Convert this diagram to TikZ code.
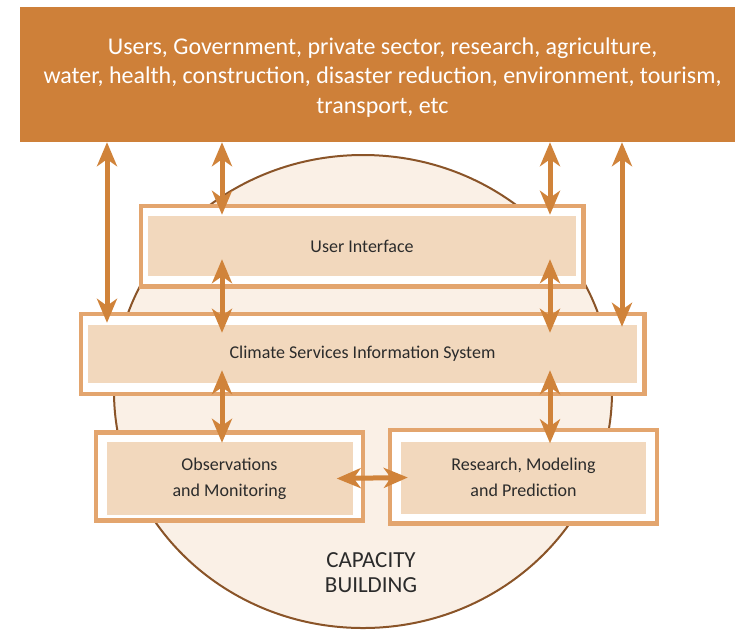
\documentclass[tikz,border=0pt]{standalone}
\usepackage{fontspec}
\setmainfont{Carlito}
\usepackage{xcolor}
\usepackage{tikz}
\usetikzlibrary{positioning,calc,arrows.meta}

\definecolor{usersorange}{HTML}{CE8039}
\definecolor{linkorange}{HTML}{D0833A}
\definecolor{boxline}{HTML}{E3A56E}
\definecolor{panelfill}{HTML}{F2D8BD}
\definecolor{ringfill}{HTML}{FAF0E6}
\definecolor{ringline}{HTML}{8A5428}
\definecolor{darktext}{HTML}{2B2B2B}

\begin{document}
\begin{tikzpicture}[x=1pt, y=-1pt,
    frame/.style={draw=boxline, line width=4.5pt, fill=white, inner sep=0pt},
    panel/.style={fill=panelfill, text=darktext, font=\fontsize{18}{26}\selectfont, align=center, inner sep=0pt},
    link/.style={draw=linkorange, line width=5pt, {Stealth[length=24pt,width=20pt,inset=7pt]}-{Stealth[length=24pt,width=20pt,inset=7pt]}}
]
    \useasboundingbox (0,0) rectangle (735,630);

    % Capacity building ring
    \draw [fill=ringfill, draw=ringline, line width=2pt] (363,391.5) ellipse [x radius=249, y radius=236.5];
    \node [font=\fontsize{23}{25}\selectfont, text=darktext, align=center] (capacity) at (371,573) {CAPACITY\\BUILDING};

    % Users
    \node [fill=usersorange, minimum width=715pt, minimum height=135pt] (users) at (377.5,74.5) {};
    \node [text=white, align=center, font=\fontsize{24}{29.5}\selectfont] (users-text) at ([xshift=5pt,yshift=-3pt]users.center)
          {Users, Government, private sector, research, agriculture,\\
           water, health, construction, disaster reduction, environment, tourism,\\
           transport, etc};

    % Boxes
    \node [frame, minimum width=442.5pt, minimum height=80.5pt] (ui) at (362,246) {};
    \node [panel, minimum width=428pt, minimum height=60pt] (ui-in) at (ui.center) {User Interface};

    \node [frame, minimum width=563.5pt, minimum height=80pt] (csis) at (362.5,354) {};
    \node [panel, minimum width=549pt, minimum height=58pt] (csis-in) at (csis.center) {Climate Services Information System};

    \node [frame, minimum width=267pt, minimum height=88pt] (obs) at (229.5,476.5) {};
    \node [panel, minimum width=246pt, minimum height=73pt] (obs-in) at ([yshift=-2pt]obs.center) {Observations\\and Monitoring};

    \node [frame, minimum width=267pt, minimum height=93.5pt] (res) at (523.5,476.5) {};
    \node [panel, minimum width=245pt, minimum height=72pt] (res-in) at ([yshift=-1pt]res.center) {Research, Modeling\\and Prediction};

    % Arrow columns
    \coordinate (colA) at (107,0);
    \coordinate (colB) at (222,0);
    \coordinate (colC) at (550,0);
    \coordinate (colD) at (622,0);

    \draw [link] (users.south -| colA) -- ([yshift=2pt]csis-in.north -| colA);
    \draw [link] (users.south -| colB) -- ([yshift=1pt]ui-in.north -| colB);
    \draw [link] (users.south -| colC) -- ([yshift=1pt]ui-in.north -| colC);
    \draw [link] (users.south -| colD) -- ([yshift=-2pt]csis-in.north -| colD);

    \draw [link] ([yshift=17pt]ui-in.south -| colB) -- ([yshift=-8pt]csis-in.north -| colB);
    \draw [link] ([yshift=17pt]ui-in.south -| colC) -- ([yshift=-8pt]csis-in.north -| colC);

    \draw [link] ([yshift=13pt]csis-in.south -| colB) -- ([yshift=-1pt]obs-in.north -| colB);
    \draw [link] ([yshift=13pt]csis-in.south -| colC) -- ([yshift=-2pt]res-in.north -| colC);

    \draw [link] ([xshift=-16pt]obs-in.east) -- ([xshift=7pt]res-in.west);

\end{tikzpicture}
\end{document}
